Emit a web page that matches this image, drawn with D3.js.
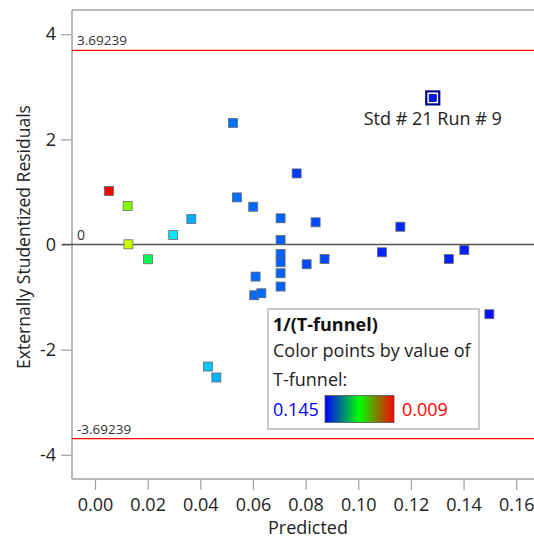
<!DOCTYPE html>
<html><head><meta charset="utf-8">
<script src="https://cdn.jsdelivr.net/npm/d3@7"></script>
<style>body{margin:0;background:#fff;} svg{display:block;font-family:"Open Sans","Noto Sans",sans-serif;}</style>
</head><body>
<svg id="c" width="534" height="540"></svg>
<script>
// ---- data ----
const predicted = [0.0053,0.0124,0.0127,0.0201,0.0297,0.0366,0.0429,0.0461,0.0524,0.0539,0.0601,0.0610,0.0605,0.0632,0.0705,0.0705,0.0705,0.0705,0.0705,0.0705,0.0766,0.0804,0.0838,0.0872,0.1090,0.1160,0.1283,0.1344,0.1403,0.1498];
const residuals = [1.016,0.731,0.004,-0.281,0.180,0.484,-2.321,-2.530,2.313,0.896,0.718,-0.610,-0.965,-0.927,0.498,0.085,-0.180,-0.338,-0.547,-0.800,1.352,-0.376,0.422,-0.275,-0.148,0.338,2.788,-0.275,-0.104,-1.326];
const tFunnel = [0.009,0.060,0.050,0.088,0.114,0.122,0.119,0.121,0.130,0.130,0.131,0.131,0.131,0.131,0.132,0.132,0.132,0.132,0.132,0.132,0.137,0.135,0.135,0.135,0.140,0.140,0.142,0.141,0.141,0.143];
const highlightIndex = 26;
const highlightLabel = "Std # 21 Run # 9";
const xTicks = [0,0.02,0.04,0.06,0.08,0.10,0.12,0.14,0.16];
const yTicks = [-4,-2,0,2,4];
const limits = [3.69239,-3.69239];
const legendTitle = "1/(T-funnel)";
const legendLines = ["Color points by value of","T-funnel:"];
const legendRange = [0.145,0.009];

const svg = d3.select("#c");
const L=72, R=534, T=10, B=479;
const x = d3.scaleLinear().domain([-0.008737,0.16676]).range([L,R]);
const y = d3.scaleLinear().domain([-4.46,4.46]).range([B,T]);
const col = d3.scaleLinear().domain([legendRange[1],legendRange[0]]).range([0,240]);
const color = t => d3.hsl(col(t),1,0.5).toString();
const hy = s => String(s).replace("\u2212","-");

// frame
const frame = svg.append("g").attr("stroke","#a0a0a0").attr("stroke-width",1.5).attr("fill","none");
frame.append("line").attr("x1",L).attr("x2",L).attr("y1",T).attr("y2",B);
frame.append("line").attr("x1",L).attr("x2",R).attr("y1",T).attr("y2",T);
frame.append("line").attr("x1",L).attr("x2",R).attr("y1",B).attr("y2",B);

// axes
const xa = svg.append("g").attr("transform",`translate(0,${B+1})`)
  .call(d3.axisBottom(x).tickValues(xTicks).tickFormat(d3.format(".2f")).tickSize(10).tickPadding(8));
const ya = svg.append("g").attr("transform",`translate(${L-1},0)`)
  .call(d3.axisLeft(y).tickValues(yTicks).tickFormat(d=>hy(d3.format("d")(d))).tickSize(10).tickPadding(5));
[xa,ya].forEach(a=>{a.select(".domain").remove();
  a.selectAll(".tick line").attr("stroke","#a0a0a0").attr("stroke-width",1.2);
  a.selectAll(".tick text").attr("fill","#222").style("font-size","18px").style("font-family","'Open Sans'");});

svg.append("text").attr("x",(L+R)/2+5).attr("y",534).attr("text-anchor","middle")
  .attr("fill","#222").style("font-size","18px").text("Predicted");
svg.append("text").attr("transform","translate(30,237) rotate(-90)").attr("text-anchor","middle")
  .attr("fill","#222").style("font-size","17.5px").text("Externally Studentized Residuals");

// zero line
svg.append("line").attr("x1",L-10).attr("x2",R).attr("y1",y(0)).attr("y2",y(0)).attr("stroke","#555").attr("stroke-width",1.6);
svg.append("text").attr("x",L+5).attr("y",y(0)-5).attr("fill","#333").style("font-size","14px").text("0");

// limit lines
limits.forEach(v=>{
  svg.append("line").attr("x1",L).attr("x2",R).attr("y1",y(v)).attr("y2",y(v)).attr("stroke","#ff0000").attr("stroke-width",1.2);
  svg.append("text").attr("x",L+5).attr("y",y(v)-5).attr("fill","#333").style("font-size","13.5px").text(hy(d3.format(".5f")(v)));
});

// points
const idx = d3.range(predicted.length);
svg.append("g").selectAll("rect").data(idx).join("rect")
  .attr("x",i=>x(predicted[i])-4.5).attr("y",i=>y(residuals[i])-4.5)
  .attr("width",9).attr("height",9)
  .attr("fill",i=>color(tFunnel[i])).attr("stroke","#6a6a6a").attr("stroke-width",0.8);

// highlight
const hx = x(predicted[highlightIndex]), hyy = y(residuals[highlightIndex]);
svg.append("rect").attr("x",hx-6.5).attr("y",hyy-6.5).attr("width",13).attr("height",13)
  .attr("fill","#fff").attr("stroke","#00008b").attr("stroke-width",2.2);
svg.append("rect").attr("x",hx-3.5).attr("y",hyy-3.5).attr("width",7).attr("height",7)
  .attr("fill",color(tFunnel[highlightIndex])).attr("stroke","#00008b").attr("stroke-width",0.8);
svg.append("text").attr("x",hx).attr("y",hyy+27).attr("text-anchor","middle").attr("fill","#222")
  .style("font-size","18px").text(highlightLabel);

// legend
const lg = svg.append("g");
lg.append("rect").attr("x",268).attr("y",309).attr("width",211).attr("height",120)
  .attr("fill","#fff").attr("stroke","#c8c8c8").attr("stroke-width",2);
lg.append("text").attr("x",273).attr("y",331).attr("fill","#111").style("font-size","18px").style("font-weight","bold").text(legendTitle);
legendLines.forEach((t,i)=>lg.append("text").attr("x",273).attr("y",357+i*29).attr("fill","#222").style("font-size","18px").text(t));
const defs = svg.append("defs");
const gr = defs.append("linearGradient").attr("id","g1");
gr.append("stop").attr("offset","0%").attr("stop-color","#0000ff");
gr.append("stop").attr("offset","50%").attr("stop-color","#00ff00");
gr.append("stop").attr("offset","100%").attr("stop-color","#ff0000");
lg.append("rect").attr("x",325).attr("y",395.5).attr("width",69).attr("height",27)
  .attr("fill","url(#g1)").attr("stroke","#555").attr("stroke-width",0.8);
lg.append("text").attr("x",273).attr("y",416).attr("fill","#0000ff").style("font-size","18px").text(d3.format(".3f")(legendRange[0]));
lg.append("text").attr("x",402).attr("y",416).attr("fill","#ff0000").style("font-size","18px").text(d3.format(".3f")(legendRange[1]));
</script>
</body></html>
